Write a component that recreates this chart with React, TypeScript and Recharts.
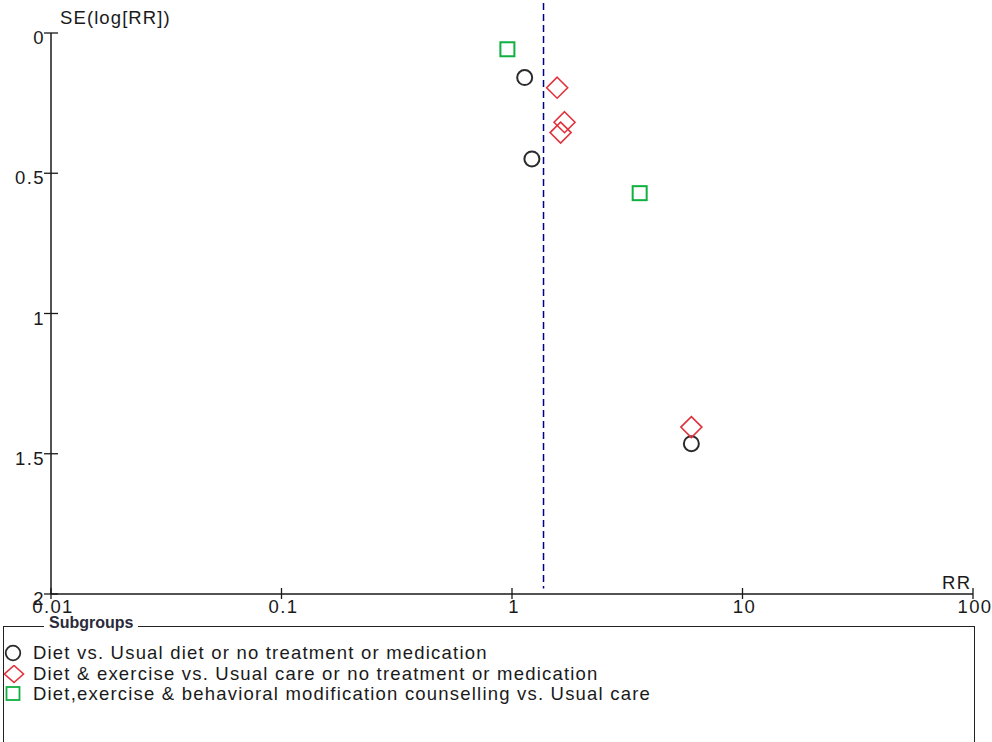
import { ScatterChart, Scatter, XAxis, YAxis, ReferenceLine } from 'recharts';

// Funnel plot: RR (log scale) against SE(log[RR]), three subgroups

const dietRR = [1.135, 1.22, 6.0];
const dietSE = [0.159, 0.449, 1.464];

const exerciseRR = [1.57, 1.69, 1.625, 6.0];
const exerciseSE = [0.195, 0.318, 0.355, 1.405];

const counsellingRR = [0.955, 3.58];
const counsellingSE = [0.058, 0.571];

const pooledRR = 1.37;

const xTicks = [0.01, 0.1, 1, 10, 100];
const yTicks = [0, 0.5, 1, 1.5, 2];

const subgroupNames = [
  'Diet vs. Usual diet or no treatment or medication',
  'Diet & exercise vs. Usual care or no treatment or medication',
  'Diet,exercise & behavioral modification counselling vs. Usual care',
];

const FONT = '"Liberation Sans", Arial, sans-serif';
const SPACING = 1.4;
const LEGEND_SPACING = 1.2;
const INK = '#1a1a1a';

const toPoints = (rr: number[], se: number[]) => rr.map((v, i) => ({ rr: v, se: se[i] }));

const dietData = toPoints(dietRR, dietSE);
const exerciseData = toPoints(exerciseRR, exerciseSE);
const counsellingData = toPoints(counsellingRR, counsellingSE);

function CircleShape({ cx, cy }: any) {
  return <circle cx={cx} cy={cy} r={7.5} fill="none" stroke="#2b2b2b" strokeWidth={2} />;
}

function DiamondShape({ cx, cy }: any) {
  const h = 10.5;
  return (
    <polygon
      points={`${cx},${cy - h} ${cx + h},${cy} ${cx},${cy + h} ${cx - h},${cy}`}
      fill="none"
      stroke="#e0323c"
      strokeWidth={1.6}
    />
  );
}

function SquareShape({ cx, cy }: any) {
  const h = 7;
  return <rect x={cx - h} y={cy - h} width={h * 2} height={h * 2} fill="none" stroke="#10b040" strokeWidth={2} />;
}

function XTick({ x, y, payload }: any) {
  return (
    <g>
      <line x1={x} y1={y - 6} x2={x} y2={y + 5} stroke={INK} strokeWidth={1.3} />
      <text
        x={x + 2}
        y={y + 19}
        textAnchor="middle"
        fontFamily={FONT}
        fontSize={18.5}
        letterSpacing={SPACING}
        fill={INK}
      >
        {payload.value}
      </text>
    </g>
  );
}

function YTick({ x, y, payload }: any) {
  return (
    <g>
      <line x1={x - 7} y1={y} x2={x + 7} y2={y} stroke={INK} strokeWidth={1.3} />
      <text
        x={x - 6}
        y={y + 11}
        textAnchor="end"
        fontFamily={FONT}
        fontSize={18.5}
        letterSpacing={SPACING}
        fill={INK}
      >
        {payload.value}
      </text>
    </g>
  );
}

function LegendMarker({ kind }: { kind: number }) {
  return (
    <svg width={24} height={22} style={{ position: 'absolute', left: 0, top: 0 }}>
      {kind === 0 && <circle cx={9} cy={9} r={7.3} fill="none" stroke="#2b2b2b" strokeWidth={1.8} />}
      {kind === 1 && <polygon points="10,0.5 19.5,9 10,17.5 0.5,9" fill="none" stroke="#e0323c" strokeWidth={1.6} />}
      {kind === 2 && <rect x={2.5} y={2} width={13} height={13} fill="none" stroke="#10b040" strokeWidth={1.8} />}
    </svg>
  );
}

export default function App() {
  return (
    <div
      style={{
        position: 'absolute',
        left: 0,
        top: 0,
        width: 992,
        height: 742,
        overflow: 'hidden',
        background: '#fff',
        fontFamily: FONT,
        color: INK,
      }}
    >
      <ScatterChart width={992} height={620} margin={{ top: 33, right: 19, left: 0, bottom: 0 }}>
        <XAxis
          type="number"
          dataKey="rr"
          scale="log"
          domain={[0.01, 100]}
          ticks={xTicks}
          allowDataOverflow
          height={26}
          tickSize={0}
          tickMargin={0}
          tickLine={false}
          tick={<XTick />}
          axisLine={{ stroke: INK, strokeWidth: 1.5 }}
        />
        <YAxis
          type="number"
          dataKey="se"
          reversed
          domain={[0, 2]}
          ticks={yTicks}
          width={51}
          tickSize={0}
          tickMargin={0}
          tickLine={false}
          tick={<YTick />}
          axisLine={{ stroke: INK, strokeWidth: 1.5 }}
        />
        <ReferenceLine
          segment={[
            { x: pooledRR, y: -0.107 },
            { x: pooledRR, y: 1.98 },
          ]}
          ifOverflow="visible"
          stroke="#00008b"
          strokeWidth={1.5}
          strokeDasharray="7 4"
        />
        <Scatter data={dietData} shape={<CircleShape />} isAnimationActive={false} />
        <Scatter data={exerciseData} shape={<DiamondShape />} isAnimationActive={false} />
        <Scatter data={counsellingData} shape={<SquareShape />} isAnimationActive={false} />
      </ScatterChart>

      {/* axis titles */}
      <div
        style={{
          position: 'absolute',
          left: 60,
          top: 7,
          fontSize: 18.5,
          letterSpacing: 1.1,
          whiteSpace: 'nowrap',
        }}
      >
        SE(log[RR])
      </div>
      <div
        style={{
          position: 'absolute',
          left: 942,
          top: 572,
          fontSize: 18.5,
          letterSpacing: SPACING,
          whiteSpace: 'nowrap',
        }}
      >
        RR
      </div>

      {/* legend box */}
      <div
        style={{
          position: 'absolute',
          left: 3,
          top: 626,
          width: 970,
          height: 200,
          border: '1.5px solid #222',
        }}
      >
        <div
          style={{
            position: 'absolute',
            left: 40,
            top: -13,
            background: '#fff',
            padding: '0 5px',
            fontWeight: 'bold',
            fontSize: 16,
            whiteSpace: 'nowrap',
            color: '#2a2a3a',
          }}
        >
          Subgroups
        </div>
        {subgroupNames.map((name, i) => (
          <div key={name} style={{ position: 'absolute', left: 0, top: 17 + i * 20.5, height: 20 }}>
            <LegendMarker kind={i} />
            <div
              style={{
                position: 'absolute',
                left: 29,
                top: -2,
                fontSize: 18.5,
                letterSpacing: LEGEND_SPACING,
                whiteSpace: 'nowrap',
              }}
            >
              {name}
            </div>
          </div>
        ))}
      </div>
    </div>
  );
}
